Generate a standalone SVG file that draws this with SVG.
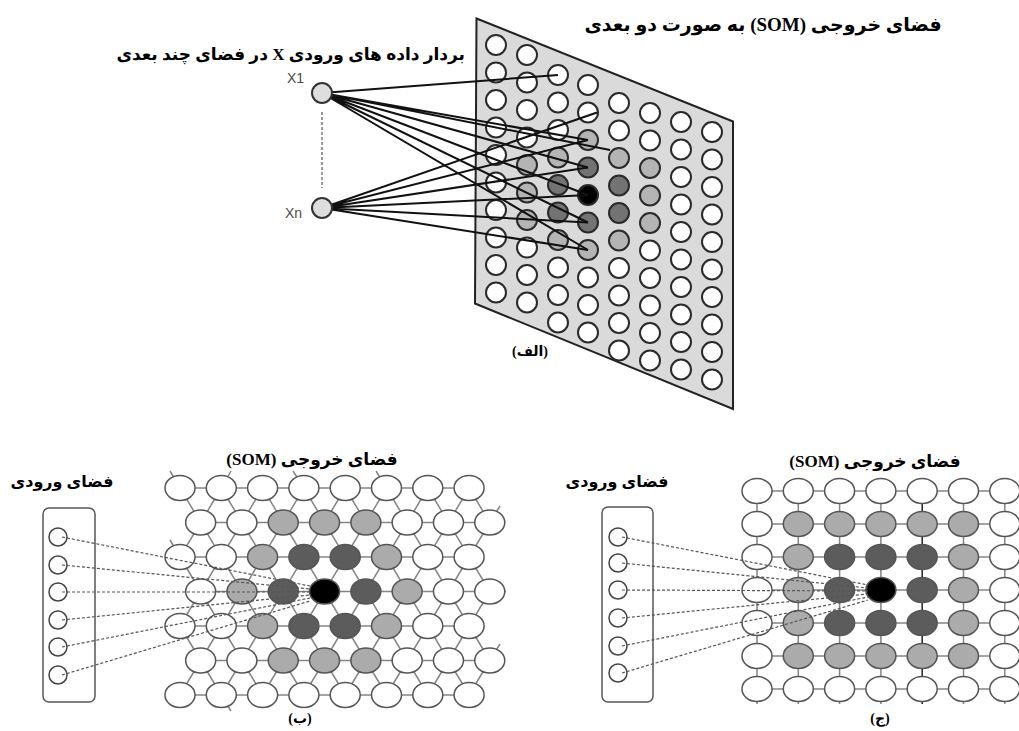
<svg xmlns="http://www.w3.org/2000/svg" width="1019" height="731" viewBox="0 0 1019 731">
<style>
.lbl{font-family:'Liberation Serif','DejaVu Sans',serif;font-weight:bold;fill:#000}
.xl{font-family:'Liberation Sans',Arial,sans-serif;font-size:14px;fill:#4a4a4a}
.tc{fill:#fff;stroke:#2a2a2a;stroke-width:2}
.tl{fill:#b4b4b4}
.td{fill:#737373}
.tb{fill:#000}
.el{fill:#fff;stroke:#555;stroke-width:1.5}
.gl{fill:#ababab}
.gd{fill:#5c5c5c}
.gb{fill:#000}
.hx{stroke:#858585;stroke-width:1.5;fill:none}
.cn{stroke:#111;stroke-width:2;fill:none}
.ds{stroke:#555;stroke-width:1.2;stroke-dasharray:3 2;fill:none}
.inb{fill:none;stroke:#555;stroke-width:1.5}
.inc{fill:#fff;stroke:#444;stroke-width:1.5}
</style>

<!-- ===== (الف) ===== -->
<g id="panel-som">
<polygon points="476.5,18.5 733,121.5 733,409 475,303.5" fill="#dadada" stroke="#222" stroke-width="2"/>
<g id="som-grid-a">
<circle class="tc" cx="496" cy="45" r="10"/><circle class="tc" cx="496" cy="72.5" r="10"/><circle class="tc" cx="496" cy="100" r="10"/><circle class="tc" cx="496" cy="127.5" r="10"/><circle class="tc" cx="496" cy="155" r="10"/><circle class="tc" cx="496" cy="182.5" r="10"/><circle class="tc" cx="496" cy="210" r="10"/><circle class="tc" cx="496" cy="237.5" r="10"/><circle class="tc" cx="496" cy="265" r="10"/><circle class="tc" cx="496" cy="292.5" r="10"/>
<circle class="tc" cx="527" cy="55" r="10"/><circle class="tc" cx="527" cy="82.5" r="10"/><circle class="tc" cx="527" cy="110" r="10"/><circle class="tc" cx="527" cy="137.5" r="10"/><circle class="tc tl" cx="527" cy="165" r="10"/><circle class="tc tl" cx="527" cy="192.5" r="10"/><circle class="tc tl" cx="527" cy="220" r="10"/><circle class="tc" cx="527" cy="247.5" r="10"/><circle class="tc" cx="527" cy="275" r="10"/><circle class="tc" cx="527" cy="302.5" r="10"/>
<circle class="tc" cx="558" cy="75" r="10"/><circle class="tc" cx="558" cy="102.5" r="10"/><circle class="tc" cx="558" cy="130" r="10"/><circle class="tc tl" cx="558" cy="157.5" r="10"/><circle class="tc td" cx="558" cy="185" r="10"/><circle class="tc td" cx="558" cy="212.5" r="10"/><circle class="tc tl" cx="558" cy="240" r="10"/><circle class="tc" cx="558" cy="267.5" r="10"/><circle class="tc" cx="558" cy="295" r="10"/><circle class="tc" cx="558" cy="322.5" r="10"/>
<circle class="tc" cx="588" cy="85" r="10"/><circle class="tc" cx="588" cy="112.5" r="10"/><circle class="tc tl" cx="588" cy="140" r="10"/><circle class="tc td" cx="588" cy="167.5" r="10"/><circle class="tc tb" cx="588" cy="195" r="10"/><circle class="tc td" cx="588" cy="222.5" r="10"/><circle class="tc tl" cx="588" cy="250" r="10"/><circle class="tc" cx="588" cy="277.5" r="10"/><circle class="tc" cx="588" cy="305" r="10"/><circle class="tc" cx="588" cy="332.5" r="10"/>
<circle class="tc" cx="619" cy="103" r="10"/><circle class="tc" cx="619" cy="130.5" r="10"/><circle class="tc tl" cx="619" cy="158" r="10"/><circle class="tc td" cx="619" cy="185.5" r="10"/><circle class="tc td" cx="619" cy="213" r="10"/><circle class="tc tl" cx="619" cy="240.5" r="10"/><circle class="tc" cx="619" cy="268" r="10"/><circle class="tc" cx="619" cy="295.5" r="10"/><circle class="tc" cx="619" cy="323" r="10"/><circle class="tc" cx="619" cy="350.5" r="10"/>
<circle class="tc" cx="650" cy="113" r="10"/><circle class="tc" cx="650" cy="140.5" r="10"/><circle class="tc tl" cx="650" cy="168" r="10"/><circle class="tc tl" cx="650" cy="195.5" r="10"/><circle class="tc tl" cx="650" cy="223" r="10"/><circle class="tc" cx="650" cy="250.5" r="10"/><circle class="tc" cx="650" cy="278" r="10"/><circle class="tc" cx="650" cy="305.5" r="10"/><circle class="tc" cx="650" cy="333" r="10"/><circle class="tc" cx="650" cy="360.5" r="10"/>
<circle class="tc" cx="681" cy="122" r="10"/><circle class="tc" cx="681" cy="149.5" r="10"/><circle class="tc" cx="681" cy="177" r="10"/><circle class="tc" cx="681" cy="204.5" r="10"/><circle class="tc" cx="681" cy="232" r="10"/><circle class="tc" cx="681" cy="259.5" r="10"/><circle class="tc" cx="681" cy="287" r="10"/><circle class="tc" cx="681" cy="314.5" r="10"/><circle class="tc" cx="681" cy="342" r="10"/><circle class="tc" cx="681" cy="369.5" r="10"/>
<circle class="tc" cx="712" cy="132" r="10"/><circle class="tc" cx="712" cy="159.5" r="10"/><circle class="tc" cx="712" cy="187" r="10"/><circle class="tc" cx="712" cy="214.5" r="10"/><circle class="tc" cx="712" cy="242" r="10"/><circle class="tc" cx="712" cy="269.5" r="10"/><circle class="tc" cx="712" cy="297" r="10"/><circle class="tc" cx="712" cy="324.5" r="10"/><circle class="tc" cx="712" cy="352" r="10"/><circle class="tc" cx="712" cy="379.5" r="10"/>
</g>
</g>

<g id="connectors-a">
<line class="ds" x1="322" y1="112" x2="322" y2="188"/>
<path class="cn" d="M322,93 L558,75 M322,93 L588,140 M322,93 L610,150 M322,93 L588,167.5 M322,93 L588,195 M322,93 L588,222.5 M322,93 L588,250"/>
<path class="cn" d="M322,208 L597,112.5 M322,208 L588,140 M322,208 L588,167.5 M322,208 L588,195 M322,208 L588,222.5 M322,208 L588,250"/>
</g>

<g id="input-x1">
<text class="xl" x="287" y="83">X1</text>
<circle cx="322" cy="93" r="10" fill="#dedede" stroke="#333" stroke-width="2"/>
</g>
<g id="input-xn">
<text class="xl" x="285" y="218">Xn</text>
<circle cx="322" cy="208" r="10" fill="#dedede" stroke="#333" stroke-width="2"/>
</g>

<g id="labels-a">
<text class="lbl" x="763" y="31" font-size="19" text-anchor="middle" direction="rtl">فضای خروجی (SOM) به صورت دو بعدی</text>
<text class="lbl" x="465" y="60" font-size="17" text-anchor="start" direction="rtl">بردار داده های ورودی X در فضای چند بعدی</text>
<text class="lbl" x="530" y="356" font-size="14" text-anchor="middle" direction="rtl">(الف)</text>
</g>

<!-- ===== (ب) ===== -->
<g id="hex-lines-b" class="hx">
<path d="M180,488H469.1 M200.65,522.5H489.75 M180,557H469.1 M200.65,591.5H489.75 M180,626H469.1 M200.65,660.5H489.75 M180,695H469.1"/>
<path d="M469.1,488L489.75,522.5 M427.8,488L489.75,591.5 M386.5,488L489.75,660.5 M345.2,488L469.1,695 M303.9,488L427.8,695 M262.6,488L386.5,695 M221.3,488L345.2,695 M180,488L303.9,695 M180,557L262.6,695 M180,626L221.3,695"/>
<path d="M221.3,488L180,557 M262.6,488L180,626 M303.9,488L180,695 M345.2,488L221.3,695 M386.5,488L262.6,695 M427.8,488L303.9,695 M469.1,488L345.2,695 M489.75,522.5L386.5,695 M489.75,591.5L427.8,695 M489.75,660.5L469.1,695"/>
<path d="M170,471L180,488 M231,471L221.3,488 M293,471L303.9,488 M376,471L386.5,488 M489.75,591.5H506 M489.75,522.5L500,506 M489.75,660.5L500,644 M221.3,695L231,711 M180,557L170,540"/>
</g>
<g id="hex-nodes-b">
<ellipse class="el" cx="180" cy="488" rx="15" ry="12.5"/><ellipse class="el" cx="221.3" cy="488" rx="15" ry="12.5"/><ellipse class="el" cx="262.6" cy="488" rx="15" ry="12.5"/><ellipse class="el" cx="303.9" cy="488" rx="15" ry="12.5"/><ellipse class="el" cx="345.2" cy="488" rx="15" ry="12.5"/><ellipse class="el" cx="386.5" cy="488" rx="15" ry="12.5"/><ellipse class="el" cx="427.8" cy="488" rx="15" ry="12.5"/><ellipse class="el" cx="469.1" cy="488" rx="15" ry="12.5"/>
<ellipse class="el" cx="200.65" cy="522.5" rx="15" ry="12.5"/><ellipse class="el" cx="241.95" cy="522.5" rx="15" ry="12.5"/><ellipse class="el gl" cx="283.25" cy="522.5" rx="15" ry="12.5"/><ellipse class="el gl" cx="324.55" cy="522.5" rx="15" ry="12.5"/><ellipse class="el gl" cx="365.85" cy="522.5" rx="15" ry="12.5"/><ellipse class="el" cx="407.15" cy="522.5" rx="15" ry="12.5"/><ellipse class="el" cx="448.45" cy="522.5" rx="15" ry="12.5"/><ellipse class="el" cx="489.75" cy="522.5" rx="15" ry="12.5"/>
<ellipse class="el" cx="180" cy="557" rx="15" ry="12.5"/><ellipse class="el" cx="221.3" cy="557" rx="15" ry="12.5"/><ellipse class="el gl" cx="262.6" cy="557" rx="15" ry="12.5"/><ellipse class="el gd" cx="303.9" cy="557" rx="15" ry="12.5"/><ellipse class="el gd" cx="345.2" cy="557" rx="15" ry="12.5"/><ellipse class="el gl" cx="386.5" cy="557" rx="15" ry="12.5"/><ellipse class="el" cx="427.8" cy="557" rx="15" ry="12.5"/><ellipse class="el" cx="469.1" cy="557" rx="15" ry="12.5"/>
<ellipse class="el" cx="200.65" cy="591.5" rx="15" ry="12.5"/><ellipse class="el gl" cx="241.95" cy="591.5" rx="15" ry="12.5"/><ellipse class="el gd" cx="283.25" cy="591.5" rx="15" ry="12.5"/><ellipse class="el gb" cx="324.55" cy="591.5" rx="15" ry="12.5"/><ellipse class="el gd" cx="365.85" cy="591.5" rx="15" ry="12.5"/><ellipse class="el gl" cx="407.15" cy="591.5" rx="15" ry="12.5"/><ellipse class="el" cx="448.45" cy="591.5" rx="15" ry="12.5"/><ellipse class="el" cx="489.75" cy="591.5" rx="15" ry="12.5"/>
<ellipse class="el" cx="180" cy="626" rx="15" ry="12.5"/><ellipse class="el" cx="221.3" cy="626" rx="15" ry="12.5"/><ellipse class="el gl" cx="262.6" cy="626" rx="15" ry="12.5"/><ellipse class="el gd" cx="303.9" cy="626" rx="15" ry="12.5"/><ellipse class="el gd" cx="345.2" cy="626" rx="15" ry="12.5"/><ellipse class="el gl" cx="386.5" cy="626" rx="15" ry="12.5"/><ellipse class="el" cx="427.8" cy="626" rx="15" ry="12.5"/><ellipse class="el" cx="469.1" cy="626" rx="15" ry="12.5"/>
<ellipse class="el" cx="200.65" cy="660.5" rx="15" ry="12.5"/><ellipse class="el" cx="241.95" cy="660.5" rx="15" ry="12.5"/><ellipse class="el gl" cx="283.25" cy="660.5" rx="15" ry="12.5"/><ellipse class="el gl" cx="324.55" cy="660.5" rx="15" ry="12.5"/><ellipse class="el gl" cx="365.85" cy="660.5" rx="15" ry="12.5"/><ellipse class="el" cx="407.15" cy="660.5" rx="15" ry="12.5"/><ellipse class="el" cx="448.45" cy="660.5" rx="15" ry="12.5"/><ellipse class="el" cx="489.75" cy="660.5" rx="15" ry="12.5"/>
<ellipse class="el" cx="180" cy="695" rx="15" ry="12.5"/><ellipse class="el" cx="221.3" cy="695" rx="15" ry="12.5"/><ellipse class="el" cx="262.6" cy="695" rx="15" ry="12.5"/><ellipse class="el" cx="303.9" cy="695" rx="15" ry="12.5"/><ellipse class="el" cx="345.2" cy="695" rx="15" ry="12.5"/><ellipse class="el" cx="386.5" cy="695" rx="15" ry="12.5"/><ellipse class="el" cx="427.8" cy="695" rx="15" ry="12.5"/><ellipse class="el" cx="469.1" cy="695" rx="15" ry="12.5"/>
</g>
<g id="input-b">
<rect class="inb" x="43" y="508" width="52" height="194" rx="6"/>
<circle class="inc" cx="58" cy="537" r="9"/><circle class="inc" cx="58" cy="565" r="9"/><circle class="inc" cx="58" cy="592" r="9"/><circle class="inc" cx="58" cy="620" r="9"/><circle class="inc" cx="58" cy="647" r="9"/><circle class="inc" cx="58" cy="675" r="9"/>
</g>
<g id="connectors-b" class="ds">
<path d="M62,537L310,586 M62,565L310,589 M62,592L310,592 M62,620L310,595 M62,647L310,598 M62,675L310,601"/>
</g>
<g id="labels-b">
<text class="lbl" x="62" y="487" font-size="16" text-anchor="middle" direction="rtl">فضای ورودی</text>
<text class="lbl" x="312" y="465" font-size="17" text-anchor="middle" direction="rtl">فضای خروجی (SOM)</text>
<text class="lbl" x="300" y="723" font-size="14" text-anchor="middle" direction="rtl">(ب)</text>
</g>

<!-- ===== (ج) ===== -->
<g id="grid-lines-c" class="hx">
<path d="M757,491H1019 M757,524H1019 M757,557H1019 M757,590H1019 M757,623H1019 M757,656H1019 M757,689H1019"/>
<path d="M757,491V704 M798.3,491V704 M839.6,491V704 M880.9,491V704 M963.5,491V704 M1004.8,491V704"/>
<path d="M922.2,491V704" stroke="#222"/>
</g>
<g id="grid-nodes-c">
<ellipse class="el" cx="757" cy="491" rx="15" ry="12.5"/><ellipse class="el" cx="798.3" cy="491" rx="15" ry="12.5"/><ellipse class="el" cx="839.6" cy="491" rx="15" ry="12.5"/><ellipse class="el" cx="880.9" cy="491" rx="15" ry="12.5"/><ellipse class="el" cx="922.2" cy="491" rx="15" ry="12.5"/><ellipse class="el" cx="963.5" cy="491" rx="15" ry="12.5"/><ellipse class="el" cx="1004.8" cy="491" rx="15" ry="12.5"/>
<ellipse class="el" cx="757" cy="524" rx="15" ry="12.5"/><ellipse class="el gl" cx="798.3" cy="524" rx="15" ry="12.5"/><ellipse class="el gl" cx="839.6" cy="524" rx="15" ry="12.5"/><ellipse class="el gl" cx="880.9" cy="524" rx="15" ry="12.5"/><ellipse class="el gl" cx="922.2" cy="524" rx="15" ry="12.5"/><ellipse class="el gl" cx="963.5" cy="524" rx="15" ry="12.5"/><ellipse class="el" cx="1004.8" cy="524" rx="15" ry="12.5"/>
<ellipse class="el" cx="757" cy="557" rx="15" ry="12.5"/><ellipse class="el gl" cx="798.3" cy="557" rx="15" ry="12.5"/><ellipse class="el gd" cx="839.6" cy="557" rx="15" ry="12.5"/><ellipse class="el gd" cx="880.9" cy="557" rx="15" ry="12.5"/><ellipse class="el gd" cx="922.2" cy="557" rx="15" ry="12.5"/><ellipse class="el gl" cx="963.5" cy="557" rx="15" ry="12.5"/><ellipse class="el" cx="1004.8" cy="557" rx="15" ry="12.5"/>
<ellipse class="el" cx="757" cy="590" rx="15" ry="12.5"/><ellipse class="el gl" cx="798.3" cy="590" rx="15" ry="12.5"/><ellipse class="el gd" cx="839.6" cy="590" rx="15" ry="12.5"/><ellipse class="el gb" cx="880.9" cy="590" rx="15" ry="12.5"/><ellipse class="el gd" cx="922.2" cy="590" rx="15" ry="12.5"/><ellipse class="el gl" cx="963.5" cy="590" rx="15" ry="12.5"/><ellipse class="el" cx="1004.8" cy="590" rx="15" ry="12.5"/>
<ellipse class="el" cx="757" cy="623" rx="15" ry="12.5"/><ellipse class="el gl" cx="798.3" cy="623" rx="15" ry="12.5"/><ellipse class="el gd" cx="839.6" cy="623" rx="15" ry="12.5"/><ellipse class="el gd" cx="880.9" cy="623" rx="15" ry="12.5"/><ellipse class="el gd" cx="922.2" cy="623" rx="15" ry="12.5"/><ellipse class="el gl" cx="963.5" cy="623" rx="15" ry="12.5"/><ellipse class="el" cx="1004.8" cy="623" rx="15" ry="12.5"/>
<ellipse class="el" cx="757" cy="656" rx="15" ry="12.5"/><ellipse class="el gl" cx="798.3" cy="656" rx="15" ry="12.5"/><ellipse class="el gl" cx="839.6" cy="656" rx="15" ry="12.5"/><ellipse class="el gl" cx="880.9" cy="656" rx="15" ry="12.5"/><ellipse class="el gl" cx="922.2" cy="656" rx="15" ry="12.5"/><ellipse class="el gl" cx="963.5" cy="656" rx="15" ry="12.5"/><ellipse class="el" cx="1004.8" cy="656" rx="15" ry="12.5"/>
<ellipse class="el" cx="757" cy="689" rx="15" ry="12.5"/><ellipse class="el" cx="798.3" cy="689" rx="15" ry="12.5"/><ellipse class="el" cx="839.6" cy="689" rx="15" ry="12.5"/><ellipse class="el" cx="880.9" cy="689" rx="15" ry="12.5"/><ellipse class="el" cx="922.2" cy="689" rx="15" ry="12.5"/><ellipse class="el" cx="963.5" cy="689" rx="15" ry="12.5"/><ellipse class="el" cx="1004.8" cy="689" rx="15" ry="12.5"/>
</g>
<g id="input-c">
<rect class="inb" x="602" y="507" width="51" height="195" rx="6"/>
<circle class="inc" cx="618" cy="537" r="9"/><circle class="inc" cx="618" cy="563" r="9"/><circle class="inc" cx="618" cy="590" r="9"/><circle class="inc" cx="618" cy="618" r="9"/><circle class="inc" cx="618" cy="646" r="9"/><circle class="inc" cx="618" cy="673" r="9"/>
</g>
<g id="connectors-c" class="ds">
<path d="M622,537L868,585 M622,563L868,588 M622,590L868,591 M622,618L868,594 M622,646L868,597 M622,673L868,600"/>
</g>
<g id="labels-c">
<text class="lbl" x="617" y="487" font-size="16" text-anchor="middle" direction="rtl">فضای ورودی</text>
<text class="lbl" x="875" y="467" font-size="17" text-anchor="middle" direction="rtl">فضای خروجی (SOM)</text>
<text class="lbl" x="880" y="723" font-size="14" text-anchor="middle" direction="rtl">(ج)</text>
</g>
</svg>
